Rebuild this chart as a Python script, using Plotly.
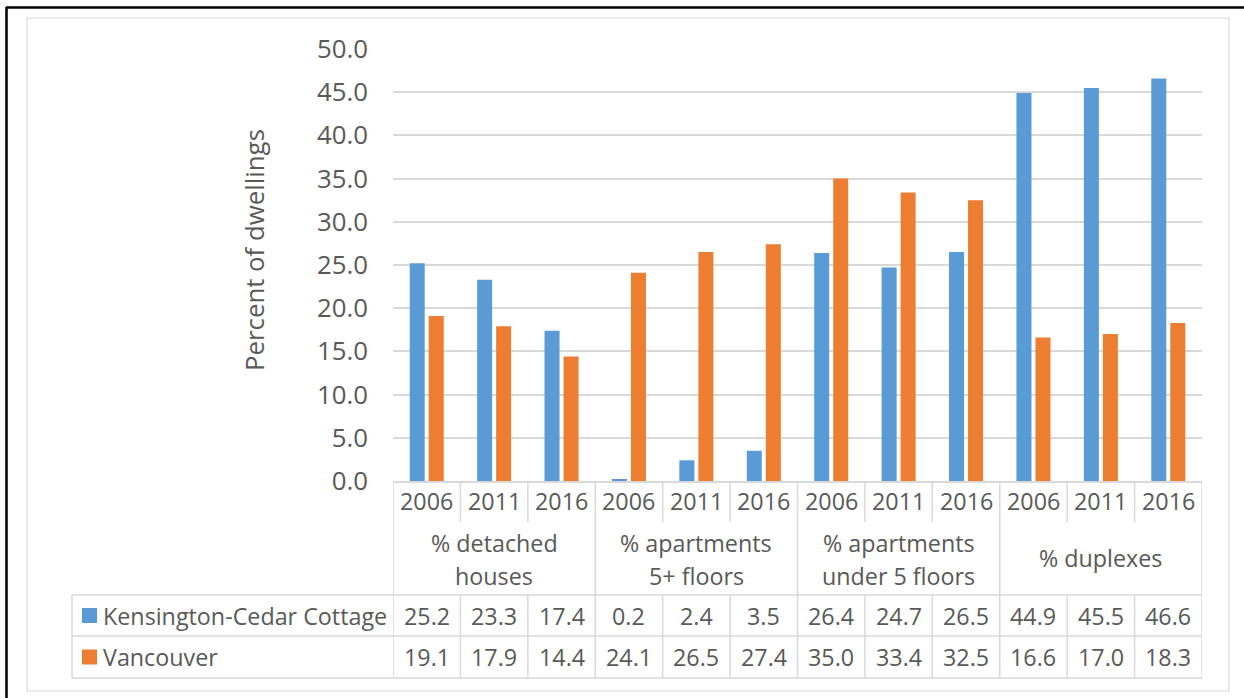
import plotly.graph_objects as go

# ---------------- data ----------------
years = ["2006", "2011", "2016"]
groups = ["% detached<br>houses", "% apartments<br>5+ floors",
          "% apartments<br>under 5 floors", "% duplexes"]
series_names = ["Kensington-Cedar Cottage", "Vancouver"]
kcc = [25.2, 23.3, 17.4, 0.2, 2.4, 3.5, 26.4, 24.7, 26.5, 44.9, 45.5, 46.6]
van = [19.1, 17.9, 14.4, 24.1, 26.5, 27.4, 35.0, 33.4, 32.5, 16.6, 17.0, 18.3]
colors = ["#5B9BD5", "#ED7D31"]
y_ticks = [0, 5, 10, 15, 20, 25, 30, 35, 40, 45, 50]

# ---------------- layout constants ----------------
W, H = 1244, 698
L, R, T, B = 393, 42, 49, 217
PW, PH = W - L - R, H - T - B
FONT = "Open Sans"
TXT = "#595959"
GRID = "#d9d9d9"
FS = 23.3
FS_AX = 25.8

def px_x(px):
    return (px - L) / PW

def px_y(py):
    return (T + PH - py) / PH

n = len(kcc)
xs = list(range(n))

fig = go.Figure()
for name, vals, c in zip(series_names, [kcc, van], colors):
    fig.add_trace(go.Bar(x=xs, y=vals, name=name, marker=dict(color=c, line=dict(width=0)),
                         hoverinfo="skip", showlegend=False))

shapes = []
ann = []

def text(x, y, s, xref="x", xanchor="center"):
    ann.append(dict(x=x, y=y, xref=xref, yref="paper", text=s, showarrow=False,
                    xanchor=xanchor, yanchor="middle",
                    font=dict(family=FONT, size=FS, color=TXT)))

def hline(x0, x1, y, xref="paper", color=GRID, w=1.5):
    shapes.append(dict(type="line", xref=xref, yref="paper", x0=x0, x1=x1, y0=y, y1=y,
                       line=dict(color=color, width=w), layer="above"))

def vline(x, y0, y1, xref="x", color=GRID, w=1.5):
    shapes.append(dict(type="line", xref=xref, yref="paper", x0=x, x1=x, y0=y0, y1=y1,
                       line=dict(color=color, width=w), layer="above"))

# table row boundaries (pixel rows)
y_axis = px_y(481)
y_year_bot = px_y(522)
y_grp_bot = px_y(595)
y_r1_bot = px_y(636)
y_r2_bot = px_y(678)
x_tbl_left = px_x(72)

hline(x_tbl_left, 1, y_grp_bot)
hline(x_tbl_left, 1, y_r1_bot)
hline(x_tbl_left, 1, y_r2_bot)
vline(x_tbl_left, y_r2_bot, y_grp_bot, xref="paper")
for k in range(n + 1):
    xb = k - 0.5
    if k % 3 == 0:
        vline(xb, y_r2_bot, y_axis)
    else:
        vline(xb, y_year_bot, y_axis)
        vline(xb, y_r2_bot, y_grp_bot)

# year labels
for i in xs:
    text(i, px_y(501), years[i % 3])
# group labels (two lines spaced like the reference)
for g, lab in enumerate(groups):
    parts = lab.split("<br>")
    if len(parts) == 2:
        text(3 * g + 1, px_y(543), parts[0])
        text(3 * g + 1, px_y(576), parts[1])
    else:
        text(3 * g + 1, px_y(558), parts[0])
# data values
for vals, yc in [(kcc, px_y(615.5)), (van, px_y(657))]:
    for i, v in enumerate(vals):
        text(i, yc, f"{v:.1f}")
# row labels with legend keys
for name, c, yc in zip(series_names, colors, [px_y(615.5), px_y(657)]):
    text(px_x(101), yc, name, xref="paper", xanchor="left")
    hh = 7.5 / PH
    shapes.append(dict(type="rect", xref="paper", yref="paper", x0=px_x(82), x1=px_x(97),
                       y0=yc - hh, y1=yc + hh, fillcolor=c, line=dict(width=0), layer="above"))

# y-axis title
ann.append(dict(x=px_x(254), y=px_y(250), xref="paper", yref="paper", text="Percent of dwellings",
                textangle=-90, showarrow=False, xanchor="center", yanchor="middle",
                font=dict(family=FONT, size=FS_AX, color=TXT)))

# outer frames
shapes.append(dict(type="rect", xref="paper", yref="paper", x0=px_x(27), x1=px_x(1229),
                   y0=px_y(691), y1=px_y(18), line=dict(color=GRID, width=1.2), layer="below"))
shapes.append(dict(type="line", xref="paper", yref="paper", x0=px_x(6), x1=px_x(1250),
                   y0=px_y(7.5), y1=px_y(7.5), line=dict(color="black", width=2.5)))
shapes.append(dict(type="line", xref="paper", yref="paper", x0=px_x(6.5), x1=px_x(6.5),
                   y0=px_y(7), y1=px_y(705), line=dict(color="black", width=2.5)))

fig.update_layout(
    width=W, height=H,
    margin=dict(l=L, r=R, t=T, b=B),
    paper_bgcolor="white", plot_bgcolor="white",
    barmode="group", bargap=0.436, bargroupgap=0.21,
    font=dict(family=FONT, size=FS, color=TXT),
    shapes=shapes, annotations=ann, showlegend=False,
    xaxis=dict(range=[-0.5, n - 0.5], showticklabels=False, showgrid=False, zeroline=False,
               showline=True, linecolor=GRID, linewidth=1.5, ticks=""),
    yaxis=dict(range=[0, 50], tickvals=y_ticks, tickformat=".1f", showgrid=True,
               gridcolor=GRID, gridwidth=1.5, zeroline=False, showline=False, ticks="",
               ticklabelstandoff=24, tickfont=dict(family=FONT, size=FS_AX, color=TXT)),
)

fig.write_html("out.html", config={"displayModeBar": False},
               post_script="document.body.style.margin='0';document.body.style.overflow='hidden';")
